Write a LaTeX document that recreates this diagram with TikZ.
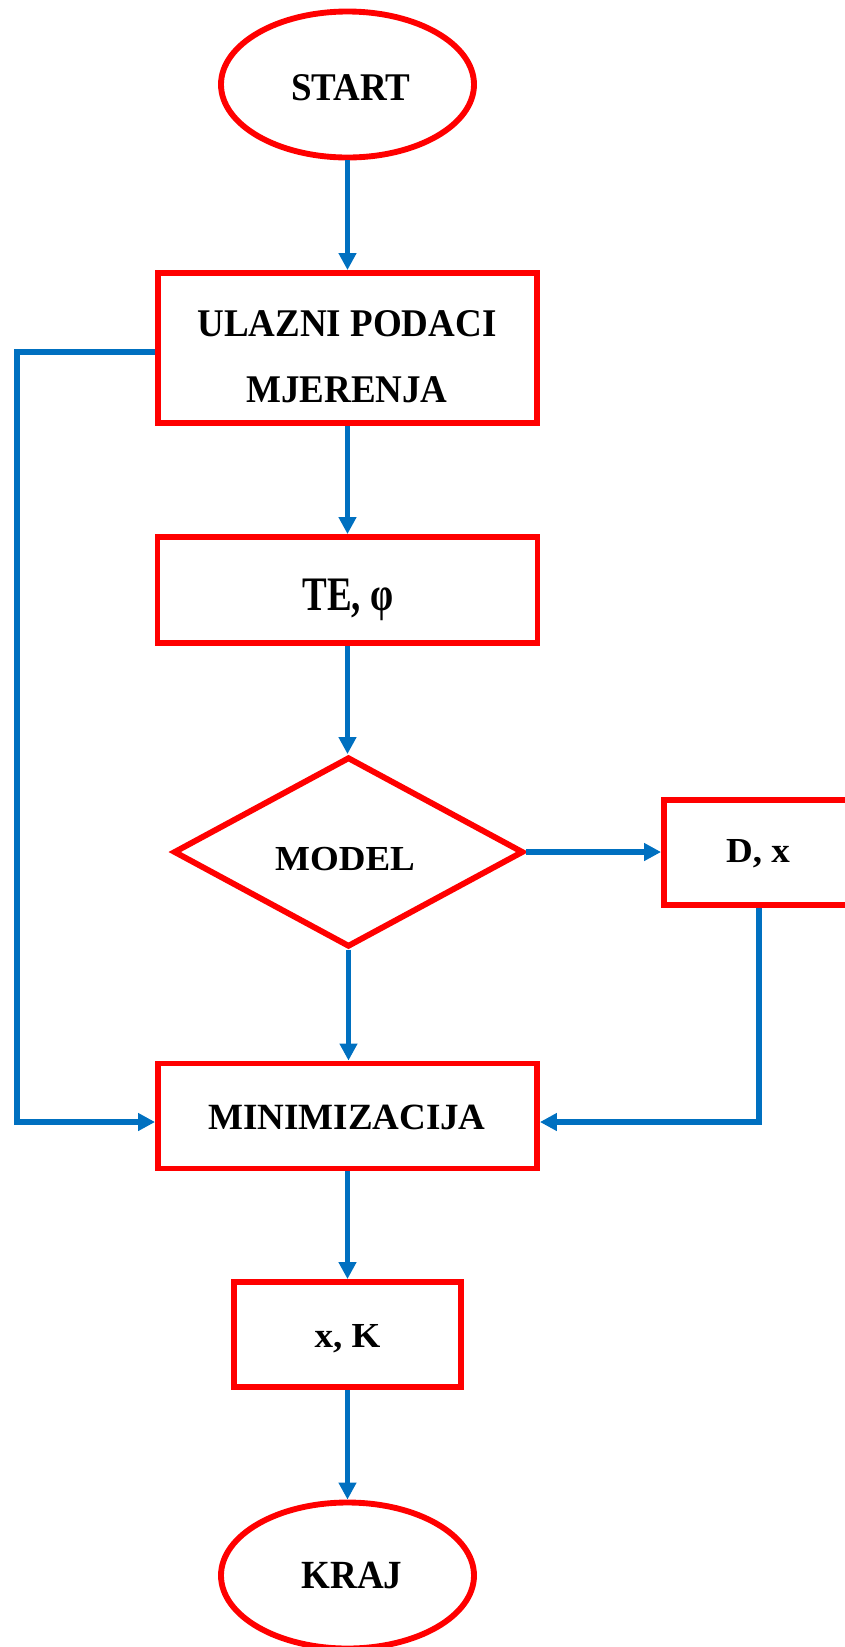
\documentclass[tikz,border=0pt]{standalone}
\usepackage{fontspec}
\setmainfont{Liberation Serif}
\usetikzlibrary{shapes.geometric,arrows.meta}
\definecolor{boxred}{RGB}{255,0,0}
\definecolor{lineblue}{RGB}{0,112,192}
\tikzset{
  redline/.style={draw=boxred, line width=4.4pt, fill=white, inner sep=0pt},
  procbox/.style={redline, rectangle},
  termbox/.style={redline, ellipse, minimum width=189.75pt, minimum height=109.5pt},
  decbox/.style={redline, diamond},
  lbl/.style={anchor=base, inner sep=0pt, font=\fontsize{27.75}{33}\selectfont\bfseries},
  flow/.style={draw=lineblue, line width=4.2pt, -{Triangle[length=12.75pt,width=12.75pt]}},
  flowline/.style={draw=lineblue, line width=4.2pt}
}
\begin{document}
\begin{tikzpicture}[x=0.75pt,y=-0.75pt]
\useasboundingbox (0,0) rectangle (845,1647);
\clip (0,0) rectangle (845,1647);
% shapes
\node[termbox] (start) at (347.5,84.5) {};
\node[procbox, minimum width=284.25pt, minimum height=112.5pt] (ulaz) at (347.5,348) {};
\node[procbox, minimum width=285pt, minimum height=79.5pt] (te) at (347.5,590) {};
\node[decbox, minimum width=262.5pt, minimum height=142.5pt] (model) at (348.5,852) {};
\node[procbox, minimum width=142.5pt, minimum height=78.75pt] (dx) at (759,852.5) {};
\node[procbox, minimum width=284.25pt, minimum height=78.75pt] (min) at (347.5,1116) {};
\node[procbox, minimum width=170.25pt, minimum height=78.75pt] (xk) at (347.5,1334.5) {};
\node[termbox] (kraj) at (347.5,1575.5) {};
% labels
\node[lbl] (tstart) at (351,100) {\scalebox{1}[1.06]{START}};
\node[lbl] (tulaz1) at (347,336) {\scalebox{1}[1.06]{ULAZNI PODACI}};
\node[lbl] (tulaz2) at (347,402) {\scalebox{1}[1.06]{MJERENJA}};
\node[lbl] (tte) at (348,610) {\scalebox{1}[1.3]{TE, φ}};
\node[lbl] (tmodel) at (345,870) {\scalebox{1}[0.95]{MODEL}};
\node[lbl] (tdx) at (758,862) {\scalebox{1}[0.95]{D, x}};
\node[lbl] (tmin) at (347,1129) {MINIMIZACIJA};
\node[lbl] (txk) at (347.5,1347) {\scalebox{1}[0.95]{x, K}};
\node[lbl] (tkraj) at (352,1588) {\scalebox{1}[1.08]{KRAJ}};
% connectors
\coordinate (l1) at (17,352);
\coordinate (l2) at (17,1122);
\draw[flow] (start.south) -- (ulaz.north);
\draw[flow] (ulaz.south) -- (te.north);
\draw[flow] (te.south) -- (te.south |- model.north);
\draw[flow] (model.east) -- (dx.west |- model.east);
\draw[flow] (model.south) -- (model.south |- min.north);
\draw[flow] (ulaz.west |- l1) -- (l1) -- (l2) -- (min.west |- l2);
\draw[flow] (dx.south) -- (dx.south |- l2) -- (min.east |- l2);
\draw[flow] (min.south) -- (xk.north);
\draw[flow] (xk.south) -- (kraj.north);
\end{tikzpicture}
\end{document}
